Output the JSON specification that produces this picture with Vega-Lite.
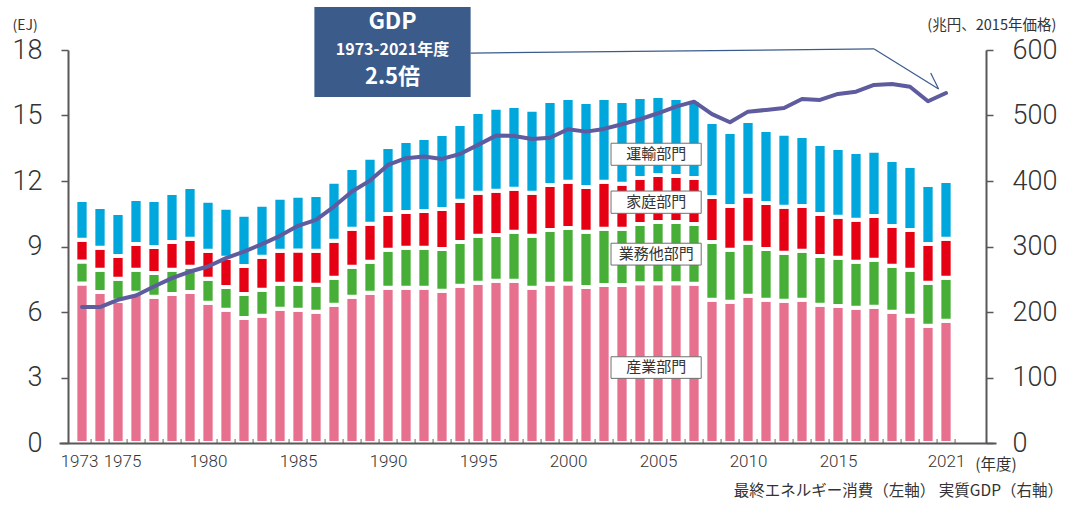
{
  "$schema": "https://vega.github.io/schema/vega-lite/v6.json",
  "width": 937,
  "height": 393,
  "autosize": {"type": "none"},
  "padding": {"left": 59, "top": 50, "right": 69, "bottom": 66},
  "background": "white",
  "config": {
    "view": {"stroke": null},
    "font": "Noto Sans CJK JP",
    "text": {"font": "Noto Sans CJK JP"},
    "axisX": {"labelOverlap": false, "labelFlush": false, "labelBound": false}
  },
  "datasets": {
    "energy": [
      {"year": 1973, "産業部門": 7.30, "業務他部門": 1.01, "家庭部門": 1.00, "運輸部門": 1.82, "gdp": 207.5},
      {"year": 1974, "産業部門": 6.92, "業務他部門": 1.01, "家庭部門": 1.01, "運輸部門": 1.87, "gdp": 207.5},
      {"year": 1975, "産業部門": 6.51, "業務他部門": 1.01, "家庭部門": 1.05, "運輸部門": 1.97, "gdp": 218.6},
      {"year": 1976, "産業部門": 6.88, "業務他部門": 1.05, "家庭部門": 1.19, "運輸部門": 2.06, "gdp": 225.2},
      {"year": 1977, "産業部門": 6.70, "業務他部門": 1.09, "家庭部門": 1.19, "運輸部門": 2.15, "gdp": 238.9},
      {"year": 1978, "産業部門": 6.83, "業務他部門": 1.10, "家庭部門": 1.28, "運輸部門": 2.24, "gdp": 251.7},
      {"year": 1979, "産業部門": 6.92, "業務他部門": 1.15, "家庭部門": 1.28, "運輸部門": 2.38, "gdp": 261.8},
      {"year": 1980, "産業部門": 6.42, "業務他部門": 1.10, "家庭部門": 1.28, "運輸部門": 2.29, "gdp": 269.4},
      {"year": 1981, "産業部門": 6.10, "業務他部門": 1.05, "家庭部門": 1.33, "運輸部門": 2.29, "gdp": 282.2},
      {"year": 1982, "産業部門": 5.73, "業務他部門": 1.10, "家庭部門": 1.28, "運輸部門": 2.34, "gdp": 292.3},
      {"year": 1983, "産業部門": 5.83, "業務他部門": 1.19, "家庭部門": 1.51, "運輸部門": 2.38, "gdp": 303.6},
      {"year": 1984, "産業部門": 6.15, "業務他部門": 1.14, "家庭部門": 1.51, "運輸部門": 2.43, "gdp": 316.3},
      {"year": 1985, "産業部門": 6.10, "業務他部門": 1.19, "家庭部門": 1.53, "運輸部門": 2.50, "gdp": 331.5},
      {"year": 1986, "産業部門": 6.01, "業務他部門": 1.24, "家庭部門": 1.55, "運輸部門": 2.56, "gdp": 340.7},
      {"year": 1987, "産業部門": 6.33, "業務他部門": 1.24, "家庭部門": 1.69, "運輸部門": 2.70, "gdp": 361.0},
      {"year": 1988, "産業部門": 6.70, "業務他部門": 1.37, "家庭部門": 1.74, "運輸部門": 2.79, "gdp": 383.9},
      {"year": 1989, "産業部門": 6.88, "業務他部門": 1.42, "家庭部門": 1.74, "運輸部門": 3.02, "gdp": 400.6},
      {"year": 1990, "産業部門": 7.11, "業務他部門": 1.74, "家庭部門": 1.64, "運輸部門": 3.07, "gdp": 424.6},
      {"year": 1991, "産業部門": 7.11, "業務他部門": 1.83, "家庭部門": 1.64, "運輸部門": 3.25, "gdp": 434.8},
      {"year": 1992, "産業部門": 7.11, "業務他部門": 1.83, "家庭部門": 1.69, "運輸部門": 3.34, "gdp": 437.3},
      {"year": 1993, "産業部門": 6.97, "業務他部門": 1.92, "家庭部門": 1.83, "運輸部門": 3.43, "gdp": 433.7},
      {"year": 1994, "産業部門": 7.20, "業務他部門": 2.01, "家庭部門": 1.88, "運輸部門": 3.52, "gdp": 441.3},
      {"year": 1995, "産業部門": 7.34, "業務他部門": 2.15, "家庭部門": 1.97, "運輸部門": 3.70, "gdp": 455.1},
      {"year": 1996, "産業部門": 7.43, "業務他部門": 2.10, "家庭部門": 2.02, "運輸部門": 3.80, "gdp": 469.3},
      {"year": 1997, "産業部門": 7.43, "業務他部門": 2.24, "家庭部門": 1.97, "運輸部門": 3.80, "gdp": 468.8},
      {"year": 1998, "産業部門": 7.11, "業務他部門": 2.38, "家庭部門": 1.97, "運輸部門": 3.80, "gdp": 464.2},
      {"year": 1999, "産業部門": 7.29, "業務他部門": 2.47, "家庭部門": 2.06, "運輸部門": 3.84, "gdp": 466.0},
      {"year": 2000, "産業部門": 7.31, "業務他部門": 2.54, "家庭部門": 2.11, "運輸部門": 3.84, "gdp": 479.0},
      {"year": 2001, "産業部門": 7.15, "業務他部門": 2.52, "家庭部門": 2.06, "運輸部門": 3.89, "gdp": 475.4},
      {"year": 2002, "産業部門": 7.24, "業務他部門": 2.57, "家庭部門": 2.15, "運輸部門": 3.84, "gdp": 479.5},
      {"year": 2003, "産業部門": 7.24, "業務他部門": 2.57, "家庭部門": 2.06, "運輸部門": 3.79, "gdp": 486.6},
      {"year": 2004, "産業部門": 7.32, "業務他部門": 2.71, "家庭部門": 2.11, "運輸部門": 3.71, "gdp": 494.3},
      {"year": 2005, "産業部門": 7.32, "業務他部門": 2.80, "家庭部門": 2.16, "運輸部門": 3.61, "gdp": 503.4},
      {"year": 2006, "産業部門": 7.32, "業務他部門": 2.80, "家庭部門": 2.11, "運輸部門": 3.57, "gdp": 513.5},
      {"year": 2007, "産業部門": 7.29, "業務他部門": 2.74, "家庭部門": 2.11, "運輸部門": 3.57, "gdp": 521.1},
      {"year": 2008, "産業部門": 6.56, "業務他部門": 2.65, "家庭部門": 2.06, "運輸部門": 3.43, "gdp": 502.0},
      {"year": 2009, "産業部門": 6.47, "業務他部門": 2.38, "家庭部門": 2.01, "運輸部門": 3.39, "gdp": 489.7},
      {"year": 2010, "産業部門": 6.74, "業務他部門": 2.43, "家庭部門": 2.15, "運輸部門": 3.43, "gdp": 505.9},
      {"year": 2011, "産業部門": 6.56, "業務他部門": 2.33, "家庭部門": 2.10, "運輸部門": 3.35, "gdp": 508.5},
      {"year": 2012, "産業部門": 6.51, "業務他部門": 2.20, "家庭部門": 2.11, "運輸部門": 3.34, "gdp": 511.5},
      {"year": 2013, "産業部門": 6.56, "業務他部門": 2.24, "家庭部門": 2.06, "運輸部門": 3.20, "gdp": 525.2},
      {"year": 2014, "産業部門": 6.33, "業務他部門": 2.24, "家庭部門": 1.92, "運輸部門": 3.21, "gdp": 523.7},
      {"year": 2015, "産業部門": 6.28, "業務他部門": 2.20, "家庭部門": 1.88, "運輸部門": 3.15, "gdp": 532.9},
      {"year": 2016, "産業部門": 6.19, "業務他部門": 2.11, "家庭部門": 1.92, "運輸部門": 3.11, "gdp": 536.4},
      {"year": 2017, "産業部門": 6.24, "業務他部門": 2.15, "家庭部門": 2.01, "運輸部門": 2.98, "gdp": 546.6},
      {"year": 2018, "産業部門": 6.01, "業務他部門": 2.11, "家庭部門": 1.82, "運輸部門": 3.02, "gdp": 548.1},
      {"year": 2019, "産業部門": 5.83, "業務他部門": 2.10, "家庭部門": 1.83, "運輸部門": 2.93, "gdp": 544.0},
      {"year": 2020, "産業部門": 5.37, "業務他部門": 1.97, "家庭部門": 1.78, "運輸部門": 2.70, "gdp": 521.7},
      {"year": 2021, "産業部門": 5.60, "業務他部門": 1.97, "家庭部門": 1.78, "運輸部門": 2.65, "gdp": 534.4}
    ],
    "rank": [
      {"sector": "産業部門", "rank": 1},
      {"sector": "業務他部門", "rank": 2},
      {"sector": "家庭部門", "rank": 3},
      {"sector": "運輸部門", "rank": 4}
    ]
  },
  "layer": [
    {
      "layer": [
        {
          "data": {"name": "energy"},
          "transform": [
            {"fold": ["産業部門", "業務他部門", "家庭部門", "運輸部門"], "as": ["sector", "v"]},
            {"lookup": "sector", "from": {"data": {"name": "rank"}, "key": "sector", "fields": ["rank"]}}
          ],
          "mark": {"type": "bar", "size": 13.3, "stroke": "white", "strokeWidth": 4},
          "encoding": {
            "x": {
              "field": "year", "type": "quantitative",
              "scale": {"domain": [1972, 2023.5], "nice": false, "zero": false},
              "axis": {
                "title": null,
                "values": [1973, 1975, 1980, 1985, 1990, 1995, 2000, 2005, 2010, 2015, 2021],
                "format": "d",
                "labelOffset": {"condition": [{"test": "datum.value == 1973", "value": -3}, {"test": "datum.value == 1975", "value": 4}], "value": 0},
                "labelOverlap": false,
                "labelFlush": false,
                "labelFont": "Roboto",
                "labelFontWeight": 300,
                "labelFontSize": 17,
                "labelColor": "#333333",
                "labelPadding": 10,
                "ticks": false,
                "domainColor": "#595757",
                "domainWidth": 2,
                "grid": false,
                "zindex": 1
              }
            },
            "y": {
              "field": "v", "type": "quantitative", "stack": "zero",
              "scale": {"domain": [0, 18], "nice": false},
              "axis": {
                "title": null,
                "orient": "left",
                "offset": -9,
                "values": [0, 3, 6, 9, 12, 15, 18],
                "labelFont": "Roboto",
                "labelFontWeight": 300,
                "labelFontSize": 27,
                "labelColor": "#333333",
                "labelPadding": 19,
                "tickSize": 7,
                "tickColor": "#595757",
                "tickWidth": 1.5,
                "domainColor": "#595757",
                "domainWidth": 2,
                "grid": false,
                "zindex": 1
              }
            },
            "color": {
              "field": "sector", "type": "nominal",
              "scale": {"domain": ["産業部門", "業務他部門", "家庭部門", "運輸部門"], "range": ["#E8708F", "#47AF37", "#E60013", "#00A7DC"]},
              "legend": null
            },
            "order": {"field": "rank", "type": "quantitative", "sort": "ascending"}
          }
        },
        {
          "data": {"name": "energy"},
          "mark": {"type": "tick", "orient": "vertical", "size": 4, "thickness": 1.3, "color": "#595757", "xOffset": 9.1, "yOffset": -2},
          "encoding": {
            "x": {"field": "year", "type": "quantitative"},
            "y": {"datum": 0}
          }
        },
        {
          "data": {"values": [
            {"t": "運輸部門"}, {"t": "家庭部門"}, {"t": "業務他部門"}, {"t": "産業部門"}
          ]},
          "layer": [
            {
              "transform": [{"filter": "datum.t == '運輸部門'"}],
              "mark": {"type": "rect", "fill": "white", "stroke": "#707070", "strokeWidth": 1},
              "encoding": {"x": {"datum": 2002.39}, "x2": {"datum": 2007.4}, "y": {"datum": 12.72}, "y2": {"datum": 13.73}}
            },
            {
              "transform": [{"filter": "datum.t == '家庭部門'"}],
              "mark": {"type": "rect", "fill": "white", "stroke": "#707070", "strokeWidth": 1},
              "encoding": {"x": {"datum": 2002.39}, "x2": {"datum": 2007.4}, "y": {"datum": 10.52}, "y2": {"datum": 11.54}}
            },
            {
              "transform": [{"filter": "datum.t == '業務他部門'"}],
              "mark": {"type": "rect", "fill": "white", "stroke": "#707070", "strokeWidth": 1},
              "encoding": {"x": {"datum": 2002.39}, "x2": {"datum": 2007.4}, "y": {"datum": 8.15}, "y2": {"datum": 9.15}}
            },
            {
              "transform": [{"filter": "datum.t == '産業部門'"}],
              "mark": {"type": "rect", "fill": "white", "stroke": "#707070", "strokeWidth": 1},
              "encoding": {"x": {"datum": 2002.39}, "x2": {"datum": 2007.4}, "y": {"datum": 2.96}, "y2": {"datum": 3.95}}
            },
            {
              "transform": [{"filter": "datum.t == '運輸部門'"}],
              "mark": {"type": "text", "fontSize": 15, "color": "#333333", "baseline": "middle", "align": "center"},
              "encoding": {"x": {"datum": 2004.9}, "y": {"datum": 13.22}, "text": {"field": "t"}}
            },
            {
              "transform": [{"filter": "datum.t == '家庭部門'"}],
              "mark": {"type": "text", "fontSize": 15, "color": "#333333", "baseline": "middle", "align": "center"},
              "encoding": {"x": {"datum": 2004.9}, "y": {"datum": 11.03}, "text": {"field": "t"}}
            },
            {
              "transform": [{"filter": "datum.t == '業務他部門'"}],
              "mark": {"type": "text", "fontSize": 15, "color": "#333333", "baseline": "middle", "align": "center"},
              "encoding": {"x": {"datum": 2004.9}, "y": {"datum": 8.65}, "text": {"field": "t"}}
            },
            {
              "transform": [{"filter": "datum.t == '産業部門'"}],
              "mark": {"type": "text", "fontSize": 15, "color": "#333333", "baseline": "middle", "align": "center"},
              "encoding": {"x": {"datum": 2004.9}, "y": {"datum": 3.46}, "text": {"field": "t"}}
            }
          ]
        },
        {
          "data": {"values": [{}]},
          "layer": [
            {
              "mark": {"type": "rect", "fill": "#3B5B8A"},
              "encoding": {"x": {"datum": 1985.91}, "x2": {"datum": 1994.59}, "y": {"datum": 15.85}, "y2": {"datum": 19.97}}
            },
            {
              "mark": {"type": "text", "text": "GDP", "fontSize": 23, "fontWeight": "bold", "color": "white", "baseline": "middle", "align": "center"},
              "encoding": {"x": {"datum": 1990.25}, "y": {"datum": 19.28}}
            },
            {
              "mark": {"type": "text", "text": "1973-2021年度", "fontSize": 16, "fontWeight": "bold", "color": "white", "baseline": "middle", "align": "center"},
              "encoding": {"x": {"datum": 1990.25}, "y": {"datum": 18.0}}
            },
            {
              "mark": {"type": "text", "text": "2.5倍", "fontSize": 22, "fontWeight": "bold", "color": "white", "baseline": "middle", "align": "center"},
              "encoding": {"x": {"datum": 1990.25}, "y": {"datum": 16.76}}
            },
            {
              "mark": {"type": "rule", "color": "#3B5B8A", "strokeWidth": 1.2},
              "encoding": {"x": {"datum": 1994.59}, "y": {"datum": 17.86}, "x2": {"datum": 2017.01}, "y2": {"datum": 18.05}}
            },
            {
              "mark": {"type": "rule", "color": "#3B5B8A", "strokeWidth": 1.2},
              "encoding": {"x": {"datum": 2017.01}, "y": {"datum": 18.05}, "x2": {"datum": 2020.59}, "y2": {"datum": 16.21}}
            },
            {
              "mark": {"type": "rule", "color": "#3B5B8A", "strokeWidth": 1.2},
              "encoding": {"x": {"datum": 2020.15}, "y": {"datum": 16.95}, "x2": {"datum": 2020.59}, "y2": {"datum": 16.21}}
            },
            {
              "mark": {"type": "text", "text": "(EJ)", "fontSize": 14, "color": "#333333", "baseline": "middle", "align": "left"},
              "encoding": {"x": {"datum": 1969.14}, "y": {"datum": 19.1}}
            },
            {
              "mark": {"type": "text", "text": "(兆円、2015年価格)", "fontSize": 14.5, "color": "#333333", "baseline": "middle", "align": "right"},
              "encoding": {"x": {"datum": 2027.13}, "y": {"datum": 19.1}}
            },
            {
              "mark": {"type": "text", "text": "(年度)", "fontSize": 15.5, "color": "#333333", "baseline": "middle", "align": "left"},
              "encoding": {"x": {"datum": 2022.62}, "y": {"datum": -1.01}}
            },
            {
              "mark": {"type": "text", "text": "最終エネルギー消費（左軸） 実質GDP（右軸）", "fontSize": 15.5, "color": "#333333", "baseline": "middle", "align": "right"},
              "encoding": {"x": {"datum": 2027.5}, "y": {"datum": -2.18}}
            }
          ]
        }
      ]
    },
    {
      "data": {"name": "energy"},
      "mark": {"type": "line", "color": "#5F5B9F", "strokeWidth": 4, "strokeCap": "round", "strokeJoin": "round"},
      "encoding": {
        "x": {"field": "year", "type": "quantitative", "scale": {"domain": [1972, 2023.5], "nice": false, "zero": false}},
        "y": {
          "field": "gdp", "type": "quantitative",
          "scale": {"domain": [0, 600], "nice": false},
          "axis": {
            "title": null,
            "orient": "right",
            "offset": -10,
            "values": [0, 100, 200, 300, 400, 500, 600],
            "labelFont": "Roboto",
            "labelFontWeight": 300,
            "labelFontSize": 27,
            "labelColor": "#333333",
            "labelPadding": 19,
            "tickSize": 7,
            "tickColor": "#595757",
            "tickWidth": 1.5,
            "domainColor": "#595757",
            "domainWidth": 2,
            "grid": false,
            "zindex": 1
          }
        }
      }
    }
  ],
  "resolve": {"scale": {"y": "independent"}, "axis": {"y": "independent"}}
}
